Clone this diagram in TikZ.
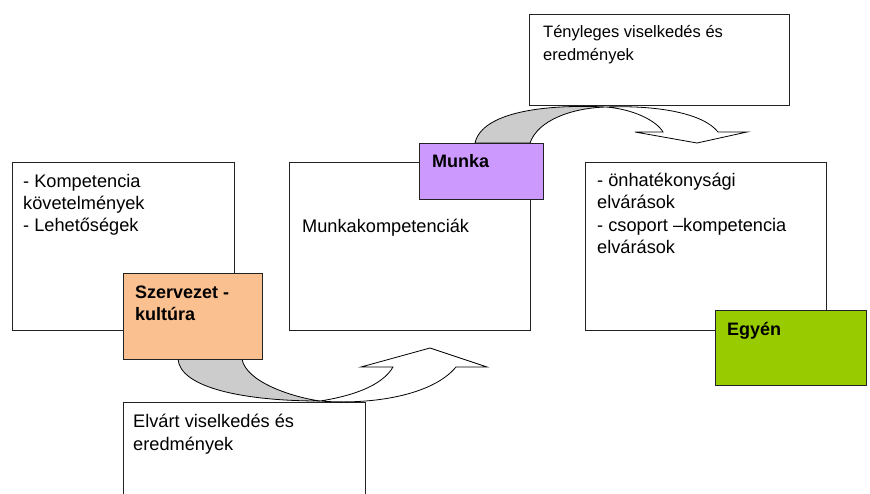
\documentclass[tikz,border=0pt]{standalone}
\usepackage{fontspec}
\setmainfont{Liberation Sans}
\definecolor{orgfill}{HTML}{FAC090}
\definecolor{jobfill}{HTML}{CC99FF}
\definecolor{indfill}{HTML}{99CC00}
\definecolor{bandgray}{HTML}{CCCCCC}
\definecolor{edge}{HTML}{222222}
\tikzset{
  box/.style={draw=edge, line width=0.9pt, fill=white, anchor=north west, inner sep=0pt},
  tag/.style={draw=edge, line width=0.9pt, anchor=north west, inner sep=0pt},
  txt/.style={anchor=base west, inner sep=0pt, font=\fontsize{18.2}{22}\selectfont},
  toptxt/.style={anchor=base west, inner sep=0pt, font=\fontsize{16.5}{22}\selectfont},
  btxt/.style={anchor=base west, inner sep=0pt, font=\fontsize{18}{22}\selectfont\bfseries},
  band/.style={draw=black, line width=0.8pt, fill=bandgray, line join=round},
  arrowbody/.style={draw=black, line width=0.8pt, fill=white, line join=miter},
}
\begin{document}
\begin{tikzpicture}[x=1pt, y=-1pt]
\useasboundingbox (0,0) rectangle (870,493);
% plain boxes
\node[box, minimum width=222, minimum height=168] (orgbox) at (12,162) {};
\node[box, minimum width=241, minimum height=168] (jobbox) at (289,162) {};
\node[box, minimum width=241, minimum height=168] (indbox) at (585,162) {};
\node[box, minimum width=260, minimum height=91] (actbox) at (529,14) {};
\coordinate (expA) at (123,494);
\coordinate (expB) at (123,402);
\coordinate (expC) at (365,402);
\coordinate (expD) at (365,494);
\draw[draw=edge, line width=0.9pt] (expA) -- (expB) -- (expC) -- (expD);
% bottom curved arrow
\coordinate (bP) at (320,401);
\draw[band] (178,359) .. controls (180,388) and (245,401) .. (bP)
  .. controls (292,397) and (246,382) .. (242,359) -- cycle;
\draw[arrowbody] (bP) .. controls (352,396) and (382,386) .. (393,367)
  -- (361,367) -- (430,348) -- (487,367) -- (456,367)
  .. controls (432,396) and (370,405) .. (bP) -- cycle;
% top curved arrow
\coordinate (tP) at (606,107);
\draw[band] (475,143) .. controls (482,112) and (545,104) .. (tP)
  .. controls (572,108) and (538,120) .. (530,143) -- cycle;
\draw[arrowbody] (tP) .. controls (632,109) and (656,120) .. (663,132)
  -- (635,132) -- (697,143) -- (747,132) -- (718,132)
  .. controls (704,114) and (660,105) .. (tP) -- cycle;
% coloured tag boxes
\node[tag, fill=orgfill, minimum width=139, minimum height=86] (orgtag) at (123,273) {};
\node[tag, fill=jobfill, minimum width=124, minimum height=56] (jobtag) at (419,143) {};
\node[tag, fill=indfill, minimum width=151, minimum height=75] (indtag) at (715,310) {};
% texts
\node[txt] (t1) at (23,187) {- Kompetencia};
\node[txt] (t2) at (23,209) {követelmények};
\node[txt] (t3) at (23,231) {- Lehetőségek};
\node[btxt] (t4) at (135,298) {Szervezet -};
\node[btxt] (t5) at (135,320) {kultúra};
\node[txt] (t6) at (302,232) {Munkakompetenciák};
\node[btxt] (t7) at (432,167) {Munka};
\node[txt] (t8) at (597,186) {- önhatékonysági};
\node[txt] (t9) at (597,208) {elvárások};
\node[txt] (t10) at (597,231) {- csoport –kompetencia};
\node[txt] (t11) at (597,253) {elvárások};
\node[btxt] (t12) at (727,335) {Egyén};
\node[toptxt] (t13) at (543,37) {Tényleges viselkedés és};
\node[toptxt] (t14) at (543,60) {eredmények};
\node[txt] (t15) at (133,427) {Elvárt viselkedés és};
\node[txt] (t16) at (133,450) {eredmények};
\end{tikzpicture}
\end{document}
